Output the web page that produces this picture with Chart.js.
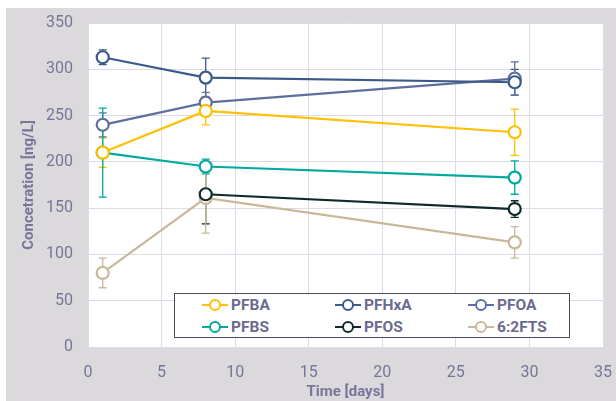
<!DOCTYPE html>
<html>
<head>
<meta charset="utf-8">
<script src="https://cdn.jsdelivr.net/npm/chart.js@4.4.1/dist/chart.umd.min.js"></script>
<style>
  body { margin: 0; background: #fff; width: 616px; height: 401px; overflow: hidden; position: relative; }
  #frame { position: absolute; left: 6px; top: 8px; width: 610px; height: 393px; background: #dcd9dd; }
  #legend { position: absolute; left: 174px; top: 293px; width: 396px; height: 45px; background: #fff;
            border: 1px solid #4a4a5a; box-sizing: border-box; font-family: "Roboto", sans-serif; }
  .item { position: absolute; height: 20px; display: flex; align-items: center; font-weight: bold;
          font-size: 15.5px; color: #6c6a90; }
  .mk { position: relative; width: 26px; height: 12px; margin-right: 3px; }
  .mk .ln { position: absolute; left: 0; right: 0; top: 5px; height: 2px; }
  .mk .dot { position: absolute; left: 7px; top: 0; width: 8px; height: 8px; border-radius: 50%;
             background: #fff; border: 2px solid; }
</style>
</head>
<body>
<div id="frame"><canvas id="myChart" width="610" height="393"></canvas></div>
<div id="legend"></div>
<script>
var days = [1, 8, 29];
var names = ['PFBA', 'PFHxA', 'PFOA', 'PFBS', 'PFOS', '6:2FTS'];
var colors = ['#ffc000', '#3b5a8a', '#5f6f9d', '#00a99d', '#0f2a2a', '#c8b899'];

var pfba = [210, 255, 232];
var pfhxa = [313, 291, 286];
var pfoa = [240, 264, 290];
var pfbs = [210, 195, 183];
var pfos = [null, 165, 149];
var fts = [80, 161, 113];

var pfbaErr = [16, 15, 25];
var pfhxaErr = [8, 21, 14];
var pfoaErr = [13, 11, 18];
var pfbsErr = [48, 8, 18];
var pfosErr = [0, 32, 9];
var ftsErr = [16, 38, 17];

var values = [pfba, pfhxa, pfoa, pfbs, pfos, fts];
var errors = [pfbaErr, pfhxaErr, pfoaErr, pfbsErr, pfosErr, ftsErr];

var txt = '#77769a';
var grid = '#dcdbe6';

// white plot area
var plotBg = {
  id: 'plotBg',
  beforeDraw: function(chart) {
    var a = chart.chartArea, c = chart.ctx;
    c.save();
    c.fillStyle = '#ffffff';
    c.fillRect(a.left, a.top, a.right - a.left, a.bottom - a.top);
    c.restore();
  }
};

// vertical error bars, drawn before the lines so the circles cover them
var errorBars = {
  id: 'errorBars',
  beforeDatasetsDraw: function(chart) {
    var c = chart.ctx, xs = chart.scales.x, ys = chart.scales.y;
    c.save();
    chart.data.datasets.forEach(function(ds, i) {
      var err = errors[i];
      c.strokeStyle = ds.borderColor;
      c.lineWidth = 1.3;
      ds.data.forEach(function(v, j) {
        if (v == null || !err[j]) return;
        var x = xs.getPixelForValue(days[j]);
        var y1 = ys.getPixelForValue(v + err[j]);
        var y2 = ys.getPixelForValue(v - err[j]);
        c.beginPath();
        c.moveTo(x, y1); c.lineTo(x, y2);
        c.moveTo(x - 4, y1); c.lineTo(x + 4, y1);
        c.moveTo(x - 4, y2); c.lineTo(x + 4, y2);
        c.stroke();
      });
    });
    c.restore();
  }
};

// fixed axis boxes so the plot area lands where the reference has it
function noPad(s) {
  s.paddingTop = 0; s.paddingBottom = 0; s.paddingLeft = 0; s.paddingRight = 0;
}

var datasets = names.map(function(n, i) {
  return {
    label: n,
    data: values[i],
    borderColor: colors[i],
    backgroundColor: '#ffffff',
    pointBackgroundColor: '#ffffff',
    pointBorderColor: colors[i],
    pointBorderWidth: 2.2,
    pointRadius: 6,
    borderWidth: 2.2,
    spanGaps: false
  };
});

var ctx = document.getElementById('myChart').getContext('2d');
var myChart = new Chart(ctx, {
  type: 'line',
  data: { labels: days, datasets: datasets },
  options: {
    responsive: false,
    animation: false,
    layout: { autoPadding: false, padding: { top: 15, right: 13, left: 0, bottom: 0 } },
    plugins: { legend: { display: false }, tooltip: { enabled: false } },
    scales: {
      x: {
        type: 'linear', min: 0, max: 35,
        ticks: { stepSize: 5, color: txt, padding: 16, font: { family: 'Roboto', size: 16 } },
        grid: { color: grid, drawTicks: false, lineWidth: 1 },
        border: { display: false },
        title: { display: true, text: 'Time [days]', color: txt, padding: { top: 0, bottom: 0 },
                 font: { family: 'Roboto', size: 15, weight: 'bold' } },
        afterFit: function(s) { s.height = 54; noPad(s); }
      },
      y: {
        min: 0, max: 350,
        ticks: { stepSize: 50, color: txt, padding: 15, font: { family: 'Roboto', size: 16 } },
        grid: { color: grid, drawTicks: false, lineWidth: 1 },
        border: { display: false },
        title: { display: true, text: 'Concetration [ng/L]', color: txt, padding: { top: 14, bottom: 0 },
                 font: { family: 'Roboto', size: 15, weight: 'bold' } },
        afterFit: function(s) { s.width = 82; noPad(s); }
      }
    }
  },
  plugins: [plotBg, errorBars]
});

// legend box inside the plot
var legend = document.getElementById('legend');
var cols = [27, 160, 293], rows = [1, 23];
names.forEach(function(n, i) {
  var d = document.createElement('div');
  d.className = 'item';
  d.style.left = cols[i % 3] + 'px';
  d.style.top = rows[Math.floor(i / 3)] + 'px';
  d.innerHTML = '<span class="mk"><span class="ln" style="background:' + colors[i] + '"></span>' +
    '<span class="dot" style="border-color:' + colors[i] + '"></span></span>' + n;
  legend.appendChild(d);
});
</script>
</body>
</html>
